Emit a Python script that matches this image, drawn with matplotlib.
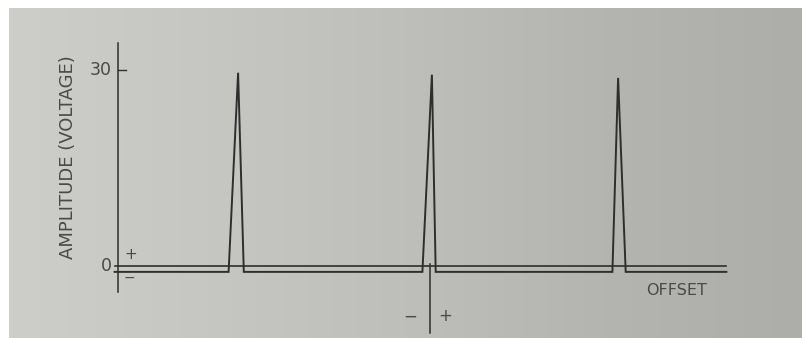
import numpy as np
import matplotlib.pyplot as plt
from matplotlib.colors import LinearSegmentedColormap

# three sharp pulses sitting on a slightly negative baseline
pulse_start = [-1.06, -0.04, 0.96]
pulse_peak = [-1.01, 0.01, 0.99]
pulse_end = [-0.98, 0.03, 1.03]
pulse_height = [29.6, 29.3, 28.8]
baseline = -0.9
x_span = [-1.66, 1.56]

y_ticks = [0, 30]
y_tick_labels = ['0', '30']

ink = '#2e2e2e'
text_ink = '#4a4a4a'

# build the trace from the pulse list
xs = [x_span[0]]
ys = [baseline]
for s, p, e, h in zip(pulse_start, pulse_peak, pulse_end, pulse_height):
    xs += [s, p, e]
    ys += [baseline, h, baseline]
xs.append(x_span[1])
ys.append(baseline)

fig = plt.figure(figsize=(8.03, 3.38), dpi=100)
fig.patch.set_facecolor('white')

# photographed page: grey, a little darker towards the right
bg = fig.add_axes([9 / 803, 0, 1 - 9 / 803, 1 - 8 / 338])
paper = LinearSegmentedColormap.from_list(
    'paper', ['#cdcdca', '#c6c6c3', '#bebebb', '#b4b4b1', '#adadA9'])
grad = np.tile(np.linspace(0, 1, 256), (8, 1))
bg.imshow(grad, cmap=paper, aspect='auto', extent=[0, 1, 0, 1])
bg.set_axis_off()

ax = fig.add_axes([0, 0, 1, 1])
ax.patch.set_alpha(0)
ax.set_xlim(-430 / 190, (803 - 430) / 190)
ax.set_ylim(-(338 - 266) / 6.53, 266 / 6.53)
ax.set_axis_off()

# axes drawn by hand, like the original drawing
ax.plot([-1.64, -1.64], [34.1, -4.0], color=ink, lw=1.1)
ax.plot(x_span, [0, 0], color=ink, lw=1.2)
ax.plot([0.0, 0.0], [0.3, -10.2], color=ink, lw=1.1)
ax.plot([-1.64, -1.60], [30, 30], color=ink, lw=1.0)

ax.plot(xs, ys, color=ink, lw=1.4, solid_joinstyle='miter')

for v, lab in zip(y_ticks, y_tick_labels):
    ax.text(-1.675, v, lab, ha='right', va='center', fontsize=12.5,
            color=text_ink)

ax.text(-1.575, 1.8, '+', ha='center', va='center', fontsize=11, color=text_ink)
ax.text(-1.58, -1.8, '\u2212', ha='center', va='center', fontsize=10, color=text_ink)
ax.text(-0.105, -7.8, '\u2212', ha='center', va='center', fontsize=12, color=text_ink)
ax.text(0.079, -7.6, '+', ha='center', va='center', fontsize=12, color=text_ink)

ax.text(1.30, -3.7, 'OFFSET', ha='center', va='center', fontsize=11.5,
        color=text_ink)
ax.text(-1.905, 16.7, 'AMPLITUDE (VOLTAGE)', ha='center', va='center',
        rotation=90, fontsize=13, color=text_ink)

fig.savefig('out.png', dpi=100)
